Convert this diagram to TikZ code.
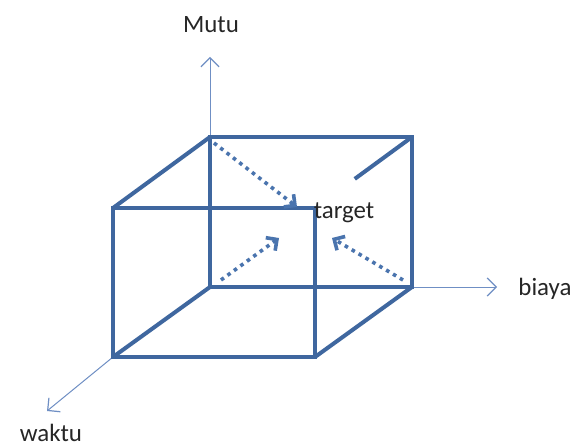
\documentclass[tikz,border=0pt]{standalone}
\usepackage{fontspec}
\setmainfont{Carlito}
\usetikzlibrary{arrows.meta,calc}
\definecolor{boxblue}{HTML}{3F679F}
\definecolor{dotblue}{HTML}{4A74AE}
\definecolor{axisblue}{HTML}{6F8FC4}
\definecolor{textgray}{HTML}{262626}
\begin{document}
\begin{tikzpicture}[x=1bp,y=-1bp,
  edge/.style={draw=boxblue,line width=4bp,line join=miter},
  axis/.style={draw=axisblue,line width=1bp,-{Straight Barb[length=9bp,width=18bp,line width=1.2bp]}},
  dotarrow/.style={draw=dotblue,line width=3.6bp,dash pattern=on 3.6bp off 4.4bp,
    -{Straight Barb[length=8bp,width=16bp,line width=3.6bp]}},
  lbl/.style={font=\fontsize{25}{28}\selectfont,text=textgray,inner sep=0pt}]
\useasboundingbox (0,0) rectangle (582,447);
\fill[white] (0,0) rectangle (582,447);
% corners
\coordinate (B1) at (210,137);
\coordinate (B2) at (412,137);
\coordinate (B3) at (412,287);
\coordinate (B4) at (210,287);
\coordinate (F1) at (113,208);
\coordinate (F2) at (315,208);
\coordinate (F3) at (315,357);
\coordinate (F4) at (113,357);
\coordinate (P) at ($(B2)!0.59!(F2)$);
% labels
\node[lbl] (mutu) at (211,25) {Mutu};
\node[lbl] (biaya) at (545,289) {biaya};
\node[lbl] (waktu) at (51,433) {waktu};
% axis tips
\coordinate (mutuTip) at (210,57);
\coordinate (biayaTip) at (497,287);
\coordinate (waktuTip) at (47,411);
% axes
\draw[axis] (B1) -- (mutuTip);
\draw[axis] (B3) -- (biayaTip);
\draw[axis] (F4) -- (waktuTip);
% cube
\draw[edge] (B1) -- (B2) -- (B3) -- (B4) -- cycle;
\draw[edge] (F1) -- (F2) -- (F3) -- (F4) -- cycle;
\draw[edge] (B1) -- (F1);
\draw[edge] (B4) -- (F4);
\draw[edge] (B3) -- (F3);
\draw[edge] (B2) -- (P);
% dotted arrows
\coordinate (d1s) at (214,143);
\coordinate (d1e) at (297,207);
\coordinate (d2s) at (221,280);
\coordinate (d2e) at (279,238);
\coordinate (d3s) at (403,280);
\coordinate (d3e) at (332,238);
\draw[dotarrow] (d1s) -- (d1e);
\draw[dotarrow] (d2s) -- (d2e);
\draw[dotarrow] (d3s) -- (d3e);
% target
\node[lbl] (target) at (344,213) {target};
\end{tikzpicture}
\end{document}
